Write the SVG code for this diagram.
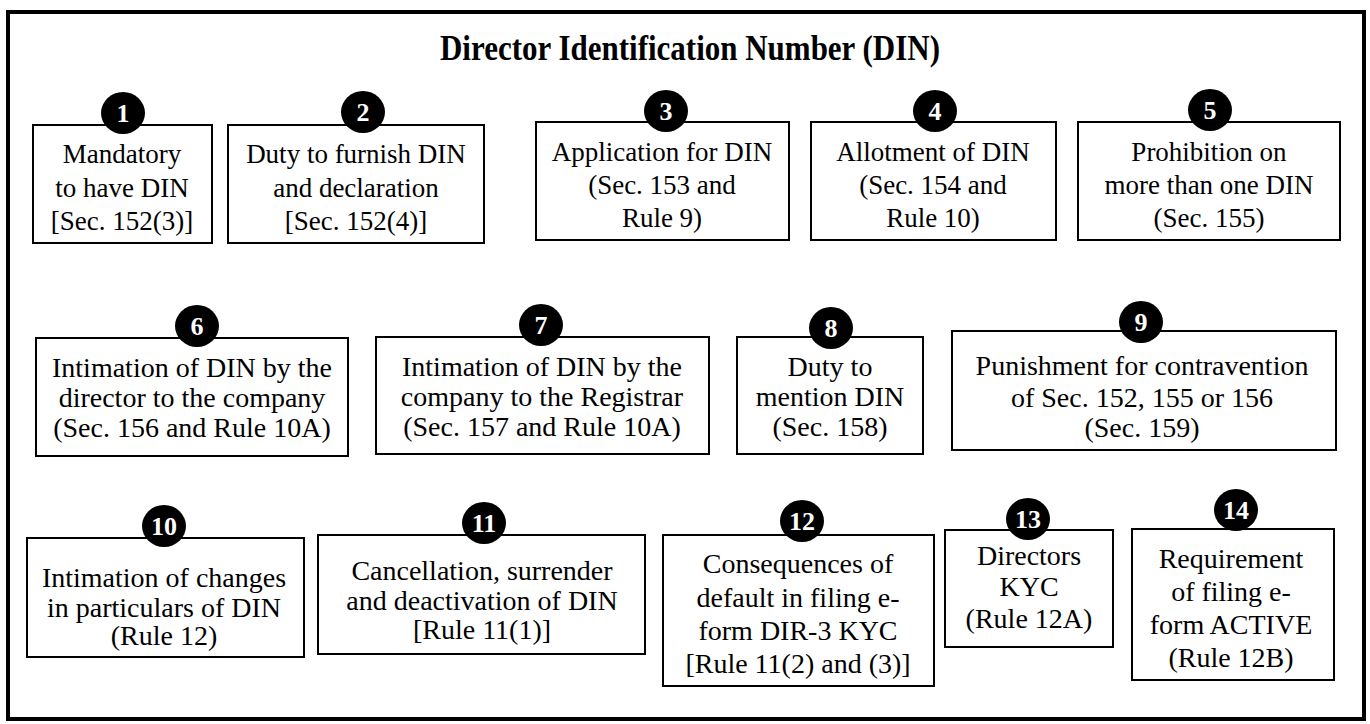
<svg xmlns="http://www.w3.org/2000/svg" width="1370" height="724" viewBox="0 0 1370 724">
<style>
.frame{fill:none;stroke:#000;stroke-width:4}
.box{fill:#fff;stroke:#000;stroke-width:2}
.t{font-family:"Liberation Serif","Times New Roman",serif;font-size:28px;fill:#000;text-anchor:middle}
.r1{font-size:27px}
.title{font-family:"Liberation Serif","Times New Roman",serif;font-size:31px;font-weight:bold;fill:#000;text-anchor:middle}
.dot{fill:#000}
.n{font-family:"Liberation Serif","Times New Roman",serif;font-size:26px;font-weight:bold;fill:#fff;text-anchor:middle}
</style>
<rect x="0" y="0" width="1370" height="724" fill="#fff"/>
<rect class="frame" x="8" y="12" width="1356" height="707"/>
<text class="title" transform="translate(690,60) scale(1,1.15)">Director Identification Number (DIN)</text>

<g id="connectors"></g>

<g id="n1">
<rect class="box" x="33" y="125" width="179" height="118"/>
<ellipse class="dot" cx="123" cy="113" rx="22" ry="21"/>
<text class="n" x="123" y="122">1</text>
<text class="t r1" x="122" y="163">Mandatory</text>
<text class="t r1" x="122" y="197">to have DIN</text>
<text class="t r1" x="122" y="230">[Sec. 152(3)]</text>
</g>
<g id="n2">
<rect class="box" x="228" y="125" width="256" height="118"/>
<ellipse class="dot" cx="363" cy="112" rx="22" ry="21"/>
<text class="n" x="363" y="121">2</text>
<text class="t r1" x="356" y="163">Duty to furnish DIN</text>
<text class="t r1" x="356" y="197">and declaration</text>
<text class="t r1" x="356" y="230">[Sec. 152(4)]</text>
</g>
<g id="n3">
<rect class="box" x="536" y="122" width="253" height="118"/>
<ellipse class="dot" cx="666" cy="111" rx="22" ry="21"/>
<text class="n" x="666" y="120">3</text>
<text class="t r1" x="662" y="161">Application for DIN</text>
<text class="t r1" x="662" y="194">(Sec. 153 and</text>
<text class="t r1" x="662" y="227">Rule 9)</text>
</g>
<g id="n4">
<rect class="box" x="811" y="122" width="245" height="118"/>
<ellipse class="dot" cx="935" cy="111" rx="22" ry="21"/>
<text class="n" x="935" y="120">4</text>
<text class="t r1" x="933" y="161">Allotment of DIN</text>
<text class="t r1" x="933" y="194">(Sec. 154 and</text>
<text class="t r1" x="933" y="227">Rule 10)</text>
</g>
<g id="n5">
<rect class="box" x="1078" y="122" width="262" height="118"/>
<ellipse class="dot" cx="1210" cy="110" rx="22" ry="21"/>
<text class="n" x="1210" y="119">5</text>
<text class="t r1" x="1209" y="161">Prohibition on</text>
<text class="t r1" x="1209" y="194">more than one DIN</text>
<text class="t r1" x="1209" y="227">(Sec. 155)</text>
</g>

<g id="n6">
<rect class="box" x="36" y="338" width="312" height="118"/>
<ellipse class="dot" cx="197" cy="326" rx="22" ry="21"/>
<text class="n" x="197" y="335">6</text>
<text class="t" x="192" y="377">Intimation of DIN by the</text>
<text class="t" x="192" y="407">director to the company</text>
<text class="t" x="192" y="437">(Sec. 156 and Rule 10A)</text>
</g>
<g id="n7">
<rect class="box" x="376" y="337" width="333" height="117"/>
<ellipse class="dot" cx="541" cy="325" rx="22" ry="21"/>
<text class="n" x="541" y="334">7</text>
<text class="t" x="542" y="376">Intimation of DIN by the</text>
<text class="t" x="542" y="406">company to the Registrar</text>
<text class="t" x="542" y="436">(Sec. 157 and Rule 10A)</text>
</g>
<g id="n8">
<rect class="box" x="737" y="337" width="186" height="117"/>
<ellipse class="dot" cx="831" cy="328" rx="22" ry="21"/>
<text class="n" x="831" y="337">8</text>
<text class="t" x="830" y="376">Duty to</text>
<text class="t" x="830" y="406">mention DIN</text>
<text class="t" x="830" y="436">(Sec. 158)</text>
</g>
<g id="n9">
<rect class="box" x="952" y="331" width="384" height="119"/>
<ellipse class="dot" cx="1141" cy="322" rx="22" ry="21"/>
<text class="n" x="1141" y="331">9</text>
<text class="t" x="1142" y="375">Punishment for contravention</text>
<text class="t" x="1142" y="407">of Sec. 152, 155 or 156</text>
<text class="t" x="1142" y="437">(Sec. 159)</text>
</g>

<g id="n10">
<rect class="box" x="27" y="538" width="277" height="119"/>
<ellipse class="dot" cx="164" cy="526" rx="22" ry="21"/>
<text class="n" x="164" y="535">10</text>
<text class="t" x="164" y="587">Intimation of changes</text>
<text class="t" x="164" y="617">in particulars of DIN</text>
<text class="t" x="164" y="645">(Rule 12)</text>
</g>
<g id="n11">
<rect class="box" x="318" y="535" width="327" height="119"/>
<ellipse class="dot" cx="484" cy="523" rx="22" ry="21"/>
<text class="n" x="484" y="532">11</text>
<text class="t" x="482" y="580">Cancellation, surrender</text>
<text class="t" x="482" y="610">and deactivation of DIN</text>
<text class="t" x="482" y="639">[Rule 11(1)]</text>
</g>
<g id="n12">
<rect class="box" x="663" y="535" width="271" height="151"/>
<ellipse class="dot" cx="802" cy="521" rx="22" ry="21"/>
<text class="n" x="802" y="530">12</text>
<text class="t" x="798" y="573">Consequences of</text>
<text class="t" x="798" y="607">default in filing e-</text>
<text class="t" x="798" y="640">form DIR-3 KYC</text>
<text class="t" x="798" y="673">[Rule 11(2) and (3)]</text>
</g>
<g id="n13">
<rect class="box" x="945" y="530" width="168" height="117"/>
<ellipse class="dot" cx="1028" cy="519" rx="22" ry="21"/>
<text class="n" x="1028" y="528">13</text>
<text class="t" x="1029" y="565">Directors</text>
<text class="t" x="1029" y="596">KYC</text>
<text class="t" x="1029" y="628">(Rule 12A)</text>
</g>
<g id="n14">
<rect class="box" x="1132" y="529" width="202" height="151"/>
<ellipse class="dot" cx="1236" cy="510" rx="22" ry="21"/>
<text class="n" x="1236" y="519">14</text>
<text class="t" x="1231" y="568">Requirement</text>
<text class="t" x="1231" y="601">of filing e-</text>
<text class="t" x="1231" y="634">form ACTIVE</text>
<text class="t" x="1231" y="667">(Rule 12B)</text>
</g>
</svg>
